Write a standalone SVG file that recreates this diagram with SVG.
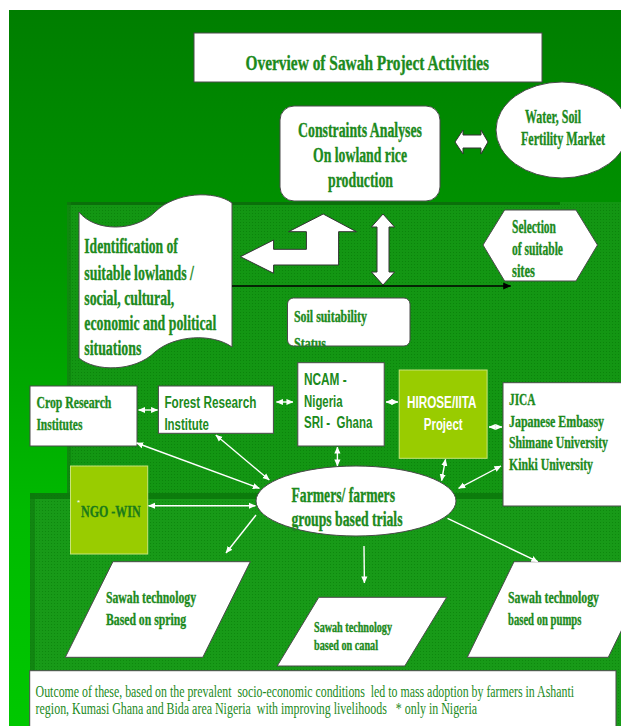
<svg xmlns="http://www.w3.org/2000/svg" width="621" height="726" viewBox="0 0 621 726">
<defs>
<linearGradient id="bg" x1="0" y1="10" x2="0" y2="726" gradientUnits="userSpaceOnUse">
<stop offset="0" stop-color="#007e00"/><stop offset="0.35" stop-color="#009600"/><stop offset="0.7" stop-color="#00ba00"/><stop offset="1" stop-color="#00c800"/>
</linearGradient>
<pattern id="tex1" width="3" height="3" patternUnits="userSpaceOnUse"><rect width="3" height="3" fill="#139613"/><rect width="1" height="1" fill="#0b840b"/></pattern>
<pattern id="tex2" width="3" height="3" patternUnits="userSpaceOnUse"><rect width="3" height="3" fill="#189a18"/><rect width="1" height="1" fill="#0e880e"/></pattern>
<marker id="aw" viewBox="0 0 8 8" refX="7.5" refY="4" markerWidth="7" markerHeight="7" markerUnits="userSpaceOnUse" orient="auto-start-reverse"><path d="M0,0.5 L8,4 L0,7.5 z" fill="#ffffff"/></marker>
<marker id="ab" viewBox="0 0 8 8" refX="7.5" refY="4" markerWidth="8" markerHeight="8" markerUnits="userSpaceOnUse" orient="auto"><path d="M0,0.5 L8,4 L0,7.5 z" fill="#000000"/></marker>
<clipPath id="soilclip"><rect x="287.5" y="298" width="122.5" height="48"/></clipPath>
</defs>
<style>
.box{fill:#ffffff;stroke:#4a4a4a;stroke-width:1}
.lime{fill:#99cc00;stroke:#c8e47a;stroke-width:1}
.st{font-family:"Liberation Serif","Times New Roman",serif;font-weight:bold;fill:#1c8a1c;stroke:#1c8a1c;stroke-width:0.35}
.ss{font-family:"Liberation Sans",Arial,sans-serif;font-weight:bold;fill:#1c8a1c}
.sr{font-family:"Liberation Serif","Times New Roman",serif;fill:#1c8a1c;white-space:pre}
.c{stroke:#ffffff;stroke-width:1.4;fill:none}
.bi{marker-start:url(#aw);marker-end:url(#aw)}
.uni{marker-end:url(#aw)}
.blk{fill:#ffffff;stroke:#333333;stroke-width:1}
</style>
<rect x="0" y="0" width="621" height="726" fill="#ffffff"/>
<rect x="9" y="10" width="612" height="716" fill="url(#bg)"/>
<rect x="67" y="202" width="554" height="524" fill="url(#tex1)"/>
<rect x="67" y="202" width="493" height="3" fill="#0a700a"/>
<rect x="67" y="202" width="4" height="291" fill="#0d7f0d" opacity="0.6"/>
<rect x="30" y="493" width="591" height="233" fill="url(#tex2)"/>
<rect x="30" y="493" width="530" height="6" fill="#0a740a" opacity="0.8"/>
<rect x="30" y="493" width="5" height="233" fill="#0e7a0e" opacity="0.6"/>

<g id="title">
<rect x="194" y="33" width="348" height="49" class="box"/>
<text x="245.5" y="70" class="st" font-size="22" textLength="243.5" lengthAdjust="spacingAndGlyphs">Overview of Sawah Project Activities</text>
</g>
<g id="constraints">
<rect x="280" y="106" width="160" height="95" rx="14" class="box"/>
<text x="298" y="137" class="st" font-size="20" textLength="124" lengthAdjust="spacingAndGlyphs">Constraints Analyses</text>
<text x="313" y="162" class="st" font-size="20" textLength="94" lengthAdjust="spacingAndGlyphs">On lowland rice</text>
<text x="328" y="187" class="st" font-size="20" textLength="65" lengthAdjust="spacingAndGlyphs">production</text>
</g>
<g id="water">
<ellipse cx="562" cy="130" rx="66" ry="48" class="box"/>
<text x="525" y="123" class="st" font-size="19" textLength="56" lengthAdjust="spacingAndGlyphs">Water, Soil</text>
<text x="521" y="145" class="st" font-size="19" textLength="84" lengthAdjust="spacingAndGlyphs">Fertility Market</text>
</g>
<g id="dbl-arrow-h">
<path d="M455,142 L463,130 L463,135 L481,135 L481,130 L488,142 L481,154 L481,148 L463,148 L463,154 Z" class="blk"/>
</g>
<g id="identification">
<path d="M79,212 C95,232 135,232 155,212 C175,192 215,190 232,203 L232,347 C212,333 175,335 155,352 C135,372 95,372 79,358 Z" class="box"/>
<text x="84.3" y="253" class="st" font-size="20" textLength="93.6" lengthAdjust="spacingAndGlyphs">Identification of</text>
<text x="84.3" y="280" class="st" font-size="20" textLength="109.6" lengthAdjust="spacingAndGlyphs">suitable lowlands /</text>
<text x="84.3" y="305" class="st" font-size="20" textLength="90" lengthAdjust="spacingAndGlyphs">social, cultural,</text>
<text x="84.3" y="330" class="st" font-size="20" textLength="132" lengthAdjust="spacingAndGlyphs">economic and political</text>
<text x="84.3" y="355" class="st" font-size="20" textLength="57" lengthAdjust="spacingAndGlyphs">situations</text>
</g>
<g id="bent-arrow">
<path d="M240.4,256.7 L273.6,240 L273.6,249.3 L306.4,249.3 L306.4,231.7 L288.6,231.7 L323.2,214 L356.4,231.7 L338.6,231.7 L338.6,265 L273.6,265 L273.6,273.3 Z" class="blk"/>
</g>
<g id="dbl-arrow-v">
<path d="M383,214 L394.6,227 L389,227 L389,272 L394.6,272 L383,285 L371.4,272 L377,272 L377,227 L371.4,227 Z" class="blk"/>
</g>
<g id="selection">
<polygon points="483,245 504.6,210 576,210 597.5,245 576,281 504.6,281" class="box"/>
<text x="512" y="233" class="st" font-size="18" textLength="44" lengthAdjust="spacingAndGlyphs">Selection</text>
<text x="512" y="255" class="st" font-size="18" textLength="51" lengthAdjust="spacingAndGlyphs">of suitable</text>
<text x="512" y="277" class="st" font-size="18" textLength="23" lengthAdjust="spacingAndGlyphs">sites</text>
</g>
<g id="soil">
<rect x="287.5" y="298" width="122.5" height="48" rx="6" class="box"/>
<text x="294" y="322" class="st" font-size="16" textLength="73" lengthAdjust="spacingAndGlyphs">Soil suitability</text>
<text x="294" y="349" class="st" font-size="16" textLength="32" lengthAdjust="spacingAndGlyphs" clip-path="url(#soilclip)">Status</text>
</g>
<g id="crop">
<rect x="30" y="386" width="107" height="60" class="box"/>
<text x="36.4" y="408" class="st" font-size="17" textLength="75" lengthAdjust="spacingAndGlyphs">Crop Research</text>
<text x="36.4" y="430" class="st" font-size="17" textLength="46" lengthAdjust="spacingAndGlyphs">Institutes</text>
</g>
<g id="forest">
<rect x="158.4" y="386" width="115" height="47.3" class="box"/>
<text x="164.4" y="408" class="ss" font-size="16" textLength="92" lengthAdjust="spacingAndGlyphs">Forest Research</text>
<text x="164.4" y="430" class="ss" font-size="16" textLength="44.6" lengthAdjust="spacingAndGlyphs">Institute</text>
</g>
<g id="ncam">
<rect x="297.8" y="362.7" width="86.4" height="83.3" class="box"/>
<text x="304" y="385" class="ss" font-size="16" textLength="42.7" lengthAdjust="spacingAndGlyphs">NCAM -</text>
<text x="304" y="407" class="ss" font-size="16" textLength="38.6" lengthAdjust="spacingAndGlyphs">Nigeria</text>
<text x="304" y="428" class="ss" font-size="16" textLength="68.3" lengthAdjust="spacingAndGlyphs" style="white-space:pre">SRI -  Ghana</text>
</g>
<g id="hirose">
<rect x="399.2" y="370" width="87.9" height="88.3" class="lime"/>
<text x="407" y="408" class="ss" font-size="16" style="fill:#ffffff" textLength="69.4" lengthAdjust="spacingAndGlyphs">HIROSE/IITA</text>
<text x="423.8" y="430" class="ss" font-size="16" style="fill:#ffffff" textLength="38.8" lengthAdjust="spacingAndGlyphs">Project</text>
</g>
<g id="jica">
<rect x="503" y="382.7" width="125" height="123.3" class="box"/>
<text x="509" y="405" class="st" font-size="17" textLength="26.4" lengthAdjust="spacingAndGlyphs">JICA</text>
<text x="509" y="427" class="st" font-size="17" textLength="95" lengthAdjust="spacingAndGlyphs">Japanese Embassy</text>
<text x="509" y="448" class="st" font-size="17" textLength="99" lengthAdjust="spacingAndGlyphs">Shimane University</text>
<text x="509" y="470" class="st" font-size="17" textLength="84" lengthAdjust="spacingAndGlyphs">Kinki University</text>
</g>
<g id="ngo">
<rect x="70.5" y="466" width="77.2" height="88" class="lime"/>
<text x="77" y="505" font-family="Liberation Sans, Arial, sans-serif" font-size="8" fill="#ffffff">*</text>
<text x="81" y="517" class="st" font-size="17" style="fill:#1a7a1a;stroke:#1a7a1a" textLength="59.6" lengthAdjust="spacingAndGlyphs">NGO -WIN</text>
</g>
<g id="farmers">
<ellipse cx="356" cy="501" rx="100" ry="35" class="box"/>
<text x="291.5" y="502" class="st" font-size="20" textLength="103.5" lengthAdjust="spacingAndGlyphs">Farmers/ farmers</text>
<text x="291.5" y="526" class="st" font-size="20" textLength="111" lengthAdjust="spacingAndGlyphs">groups based trials</text>
</g>
<g id="spring">
<polygon points="112.9,561.7 250.3,561.7 202.8,657.3 65.3,657.3" class="box"/>
<text x="106" y="603" class="st" font-size="16" textLength="90" lengthAdjust="spacingAndGlyphs">Sawah technology</text>
<text x="106" y="625" class="st" font-size="16" textLength="80" lengthAdjust="spacingAndGlyphs">Based on spring</text>
</g>
<g id="canal">
<polygon points="318.8,597.3 446.7,597.3 404.8,666 277.2,666" class="box"/>
<text x="314" y="632" class="st" font-size="14" textLength="78" lengthAdjust="spacingAndGlyphs">Sawah technology</text>
<text x="314" y="650" class="st" font-size="14" textLength="64" lengthAdjust="spacingAndGlyphs">based on canal</text>
</g>
<g id="pumps">
<polygon points="514,561.7 655,561.7 608.3,657.3 467.3,657.3" class="box"/>
<text x="508" y="603" class="st" font-size="16" textLength="91" lengthAdjust="spacingAndGlyphs">Sawah technology</text>
<text x="508" y="625" class="st" font-size="16" textLength="73.4" lengthAdjust="spacingAndGlyphs">based on pumps</text>
</g>
<g id="outcome">
<rect x="29.7" y="670.7" width="586.3" height="60" class="box"/>
<text x="35.6" y="697" class="sr" font-size="16" textLength="538.4" lengthAdjust="spacingAndGlyphs">Outcome of these, based on the prevalent  socio-economic conditions  led to mass adoption by farmers in Ashanti</text>
<text x="35.6" y="714" class="sr" font-size="16" textLength="441.4" lengthAdjust="spacingAndGlyphs">region, Kumasi Ghana and Bida area Nigeria  with improving livelihoods   * only in Nigeria</text>
</g>
<g id="connectors">
<line x1="232" y1="286" x2="510.7" y2="286" stroke="#000000" stroke-width="1.4" marker-end="url(#ab)"/>
<line x1="138.6" y1="410" x2="157.6" y2="410" class="c bi"/>
<line x1="276.4" y1="402" x2="293" y2="402" class="c bi"/>
<line x1="386" y1="402" x2="398" y2="402" class="c bi"/>
<line x1="489" y1="427" x2="502" y2="427" class="c bi"/>
<line x1="136.6" y1="443" x2="259.4" y2="488.3" class="c bi"/>
<line x1="215.8" y1="435" x2="269.3" y2="480" class="c bi"/>
<line x1="337.4" y1="447" x2="337.4" y2="466" class="c bi"/>
<line x1="445.5" y1="459.3" x2="441.6" y2="480.7" class="c bi"/>
<line x1="501" y1="466" x2="458.6" y2="488.3" class="c bi"/>
<line x1="148.5" y1="505.7" x2="255.4" y2="505.7" class="c bi"/>
<line x1="256" y1="515" x2="226" y2="553" class="c uni"/>
<line x1="364" y1="546" x2="364.4" y2="583" class="c uni" stroke-width="1"/>
<line x1="447.5" y1="518.3" x2="537.8" y2="561.7" class="c uni"/>
</g>
</svg>
